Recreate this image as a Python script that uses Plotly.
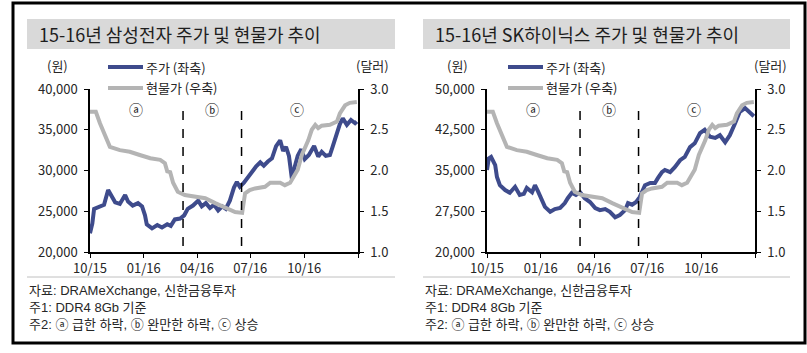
import plotly.graph_objects as go

# ---------------- data ----------------
sam_dates = ["2015-10-01", "2015-10-05", "2015-10-08", "2015-10-12", "2015-10-18", "2015-10-25",
             "2015-11-01", "2015-11-06", "2015-11-13", "2015-11-21", "2015-11-30", "2015-12-05",
             "2015-12-13", "2015-12-22", "2015-12-29", "2016-01-03", "2016-01-06", "2016-01-15",
             "2016-01-24", "2016-02-01", "2016-02-10", "2016-02-16", "2016-02-23", "2016-03-03",
             "2016-03-10", "2016-03-16", "2016-03-25", "2016-04-03", "2016-04-09", "2016-04-16",
             "2016-04-23", "2016-04-30", "2016-05-07", "2016-05-14", "2016-05-20", "2016-05-27",
             "2016-06-03", "2016-06-08", "2016-06-13", "2016-06-20", "2016-06-27", "2016-07-04",
             "2016-07-11", "2016-07-18", "2016-07-24", "2016-07-31", "2016-08-07", "2016-08-14",
             "2016-08-21", "2016-08-26", "2016-08-31", "2016-09-05", "2016-09-10", "2016-09-15",
             "2016-09-20", "2016-09-26", "2016-10-02", "2016-10-09", "2016-10-18", "2016-10-25",
             "2016-10-31", "2016-11-07", "2016-11-14", "2016-11-19", "2016-11-24", "2016-12-01",
             "2016-12-06", "2016-12-13", "2016-12-20", "2016-12-27", "2016-12-30"]
sam_price = [22300, 23500, 25300, 25400, 25500, 25800,
             27600, 26900, 26100, 25900, 27000, 26200,
             25700, 26000, 25600, 24500, 23400, 22900,
             23300, 23000, 23400, 23200, 24000, 24100,
             24500, 25300, 25700, 26300, 25600, 26000,
             25400, 25800, 25100, 25600, 25300, 26300,
             27900, 28600, 28000, 28500, 29200, 29900,
             30500, 31000, 30600, 31100, 31500, 33000,
             33700, 32400, 32900, 31800, 29000, 30500,
             31800, 32600, 31400, 31900, 33000, 31700,
             32300, 31800, 31900, 33000, 34300, 35700,
             36400, 35600, 36200, 35800, 36000]

hynix_dates = ["2015-10-01", "2015-10-04", "2015-10-08", "2015-10-11", "2015-10-15", "2015-10-18",
               "2015-10-23", "2015-11-01", "2015-11-09", "2015-11-18", "2015-11-26", "2015-12-03",
               "2015-12-08", "2015-12-17", "2015-12-22", "2015-12-27", "2016-01-01", "2016-01-08",
               "2016-01-17", "2016-01-25", "2016-02-03", "2016-02-11", "2016-02-16", "2016-02-23",
               "2016-03-01", "2016-03-08", "2016-03-16", "2016-03-25", "2016-04-03", "2016-04-11",
               "2016-04-20", "2016-04-28", "2016-05-07", "2016-05-15", "2016-05-24", "2016-05-29",
               "2016-06-05", "2016-06-12", "2016-06-18", "2016-06-27", "2016-07-06", "2016-07-14",
               "2016-07-19", "2016-07-26", "2016-07-31", "2016-08-09", "2016-08-17", "2016-08-26",
               "2016-09-03", "2016-09-12", "2016-09-20", "2016-09-29", "2016-10-07", "2016-10-16",
               "2016-10-25", "2016-11-02", "2016-11-11", "2016-11-19", "2016-11-28", "2016-12-06",
               "2016-12-15", "2016-12-23", "2016-12-30"]
hynix_price = [35100, 37200, 37500, 37000, 36000, 33800,
               32300, 31400, 30900, 32000, 30500, 30700,
               31800, 31000, 32300, 31200, 29900, 28300,
               27400, 27900, 28100, 29000, 29900, 30900,
               30500, 31000, 29900, 29200, 28100, 27700,
               27900, 27400, 26400, 26800, 27700, 29000,
               28700, 29200, 30100, 32300, 32700, 32700,
               33600, 34700, 35100, 34700, 35600, 36900,
               37500, 39300, 40000, 41900, 42500, 41200,
               41000, 41500, 40200, 41500, 43700, 45800,
               46500, 45600, 45000]

spot_dates = ["2015-10-01", "2015-10-11", "2015-10-18", "2015-10-27", "2015-11-04", "2015-11-21",
              "2015-12-08", "2015-12-25", "2016-01-12", "2016-01-29", "2016-02-06", "2016-02-10",
              "2016-02-15", "2016-02-20", "2016-02-28", "2016-03-11", "2016-03-28", "2016-04-15",
              "2016-05-02", "2016-05-19", "2016-06-05", "2016-06-17", "2016-06-22", "2016-06-30",
              "2016-07-09", "2016-07-26", "2016-08-04", "2016-08-21", "2016-08-29", "2016-09-07",
              "2016-09-15", "2016-09-20", "2016-09-27", "2016-10-08", "2016-10-14", "2016-10-20",
              "2016-10-25", "2016-10-31", "2016-11-14", "2016-11-26", "2016-12-01", "2016-12-10",
              "2016-12-18", "2016-12-30"]
spot_price = [2.72, 2.72, 2.58, 2.41, 2.29, 2.25,
              2.23, 2.19, 2.15, 2.13, 2.09, 1.99,
              1.98, 1.85, 1.74, 1.70, 1.68, 1.66,
              1.60, 1.54, 1.49, 1.48, 1.72, 1.76,
              1.78, 1.80, 1.85, 1.85, 1.82, 1.85,
              1.94, 2.01, 2.19, 2.37, 2.50, 2.56,
              2.52, 2.55, 2.56, 2.60, 2.70, 2.80,
              2.83, 2.84]

x_tickvals = ["2015-10-01", "2016-01-01", "2016-04-01", "2016-07-01", "2016-10-01", "2017-01-01"]
x_ticktext = ["10/15", "01/16", "04/16", "07/16", "10/16", ""]
sam_yticks = [20000, 25000, 30000, 35000, 40000]
sam_yticktext = ["20,000", "25,000", "30,000", "35,000", "40,000"]
hynix_yticks = [20000, 27500, 35000, 42500, 50000]
hynix_yticktext = ["20,000", "27,500", "35,000", "42,500", "50,000"]
spot_ticks = [1.0, 1.5, 2.0, 2.5, 3.0]
spot_ticktext = ["1.0", "1.5", "2.0", "2.5", "3.0"]

phase_dates = ["2016-03-08", "2016-06-16"]
phase_label_dates = ["2015-12-18", "2016-04-27", "2016-09-19"]
phase_labels = ["ⓐ", "ⓑ", "ⓒ"]

titles = ["15-16년 삼성전자 주가 및 현물가 추이", "15-16년 SK하이닉스 주가 및 현물가 추이"]
legend_names = ["주가 (좌축)", "현물가 (우축)"]
notes = ["자료: DRAMeXchange, 신한금융투자", "주1: DDR4 8Gb 기준", "주2: ⓐ 급한 하락, ⓑ 완만한 하락, ⓒ 상승"]

# ---------------- style ----------------
W, H = 807, 353
FONT = "Noto Sans CJK KR"
NOTE_FONT = "Liberation Sans, Noto Sans CJK KR"
BLUE = "#3E4B8C"
GRAY = "#B4B4B4"
TXT = "#262626"


def px(x):
    return x / W


def py(y):
    return 1 - y / H


fig = go.Figure()

fig.add_trace(go.Scatter(x=sam_dates, y=sam_price, mode="lines", name=legend_names[0],
                         line=dict(color=BLUE, width=4), xaxis="x", yaxis="y"))
fig.add_trace(go.Scatter(x=spot_dates, y=spot_price, mode="lines", name=legend_names[1],
                         line=dict(color=GRAY, width=4), xaxis="x", yaxis="y2"))
fig.add_trace(go.Scatter(x=hynix_dates, y=hynix_price, mode="lines", name=legend_names[0],
                         line=dict(color=BLUE, width=4), xaxis="x2", yaxis="y3"))
fig.add_trace(go.Scatter(x=spot_dates, y=spot_price, mode="lines", name=legend_names[1],
                         line=dict(color=GRAY, width=4), xaxis="x2", yaxis="y4"))

tickfont = dict(family=FONT, size=13, color=TXT)
common = dict(showgrid=False, zeroline=False, showline=True, linecolor="black", linewidth=1.5,
              ticks="outside", ticklen=4, tickwidth=1.2, tickcolor="black", tickfont=tickfont,
              automargin=False)

ydom = [py(252), py(89)]
fig.update_layout(
    width=W, height=H, margin=dict(l=0, r=0, t=0, b=0, pad=0),
    paper_bgcolor="white", plot_bgcolor="white", showlegend=False,
    xaxis=dict(domain=[px(90), px(358)], anchor="y", type="date",
               range=["2015-10-01", "2017-01-01"], tickvals=x_tickvals, ticktext=x_ticktext, **common),
    yaxis=dict(domain=ydom, anchor="x", range=[20000, 40000], tickvals=sam_yticks,
               ticktext=sam_yticktext, ticklabelstandoff=4, **common),
    yaxis2=dict(overlaying="y", side="right", anchor="x", range=[1, 3], tickvals=spot_ticks,
                ticktext=spot_ticktext, ticklabelstandoff=4, **common),
    xaxis2=dict(domain=[px(487), px(755)], anchor="y3", type="date",
                range=["2015-10-01", "2017-01-01"], tickvals=x_tickvals, ticktext=x_ticktext, **common),
    yaxis3=dict(domain=ydom, anchor="x2", range=[20000, 50000], tickvals=hynix_yticks,
                ticktext=hynix_yticktext, ticklabelstandoff=4, **common),
    yaxis4=dict(overlaying="y3", side="right", anchor="x2", range=[1, 3], tickvals=spot_ticks,
                ticktext=spot_ticktext, ticklabelstandoff=4, **common),
)

shapes = []
annotations = []

# outer frame
shapes.append(dict(type="rect", xref="paper", yref="paper", x0=px(13), x1=px(805), y0=py(343), y1=py(3),
                   line=dict(color="black", width=3), fillcolor="rgba(0,0,0,0)", layer="above"))

panels = [
    dict(band=(27, 395), xr="x", yr="y", legx=108, unitl=57, unitr=372, title=titles[0]),
    dict(band=(423, 790), xr="x2", yr="y3", legx=508, unitl=457, unitr=770, title=titles[1]),
]

for p in panels:
    b0, b1 = p["band"]
    # title band
    shapes.append(dict(type="rect", xref="paper", yref="paper", x0=px(b0), x1=px(b1), y0=py(49), y1=py(19),
                       line=dict(width=0), fillcolor="#D9D9D9", layer="below"))
    annotations.append(dict(xref="paper", yref="paper", x=px(b0 + 10), y=py(34), xanchor="left", yanchor="middle",
                            text=p["title"], showarrow=False,
                            font=dict(family=FONT, size=18, color="#1E1E1E")))
    # footer rule
    shapes.append(dict(type="line", xref="paper", yref="paper", x0=px(b0), x1=px(b1), y0=py(277), y1=py(277),
                       line=dict(color="#C0C0C0", width=1)))
    annotations.append(dict(xref="paper", yref="paper", x=px(b0), y=py(307), xanchor="left",
                            yanchor="middle", align="left", text="<br>".join(notes), showarrow=False,
                            font=dict(family=NOTE_FONT, size=13, color=TXT)))
    # units
    annotations.append(dict(xref="paper", yref="paper", x=px(p["unitl"]), y=py(65), text="(원)",
                            xanchor="center", yanchor="middle",
                            showarrow=False, font=dict(family=FONT, size=13, color=TXT)))
    annotations.append(dict(xref="paper", yref="paper", x=px(p["unitr"]), y=py(65), text="(달러)",
                            xanchor="center", yanchor="middle",
                            showarrow=False, font=dict(family=FONT, size=13, color=TXT)))
    # legend
    for i, (nm, col) in enumerate(zip(legend_names, [BLUE, GRAY])):
        yy = 67 + 21 * i
        shapes.append(dict(type="line", xref="paper", yref="paper", x0=px(p["legx"]), x1=px(p["legx"] + 35),
                           y0=py(yy), y1=py(yy), line=dict(color=col, width=4)))
        annotations.append(dict(xref="paper", yref="paper", x=px(p["legx"] + 36), y=py(yy), xanchor="left",
                                yanchor="middle", text=nm, showarrow=False,
                                font=dict(family=FONT, size=13, color=TXT)))
    # phase dividers
    for d in phase_dates:
        shapes.append(dict(type="line", xref=p["xr"], yref="paper", x0=d, x1=d, y0=py(246), y1=py(110),
                           line=dict(color="black", width=1.5, dash="dash")))
    for d, lab in zip(phase_label_dates, phase_labels):
        annotations.append(dict(xref=p["xr"], yref="paper", x=d, y=py(109), text=lab, showarrow=False,
                                xanchor="center", yanchor="middle",
                                font=dict(family=FONT, size=14, color=TXT)))

fig.update_layout(shapes=shapes, annotations=annotations)
fig.write_html("out.html")
